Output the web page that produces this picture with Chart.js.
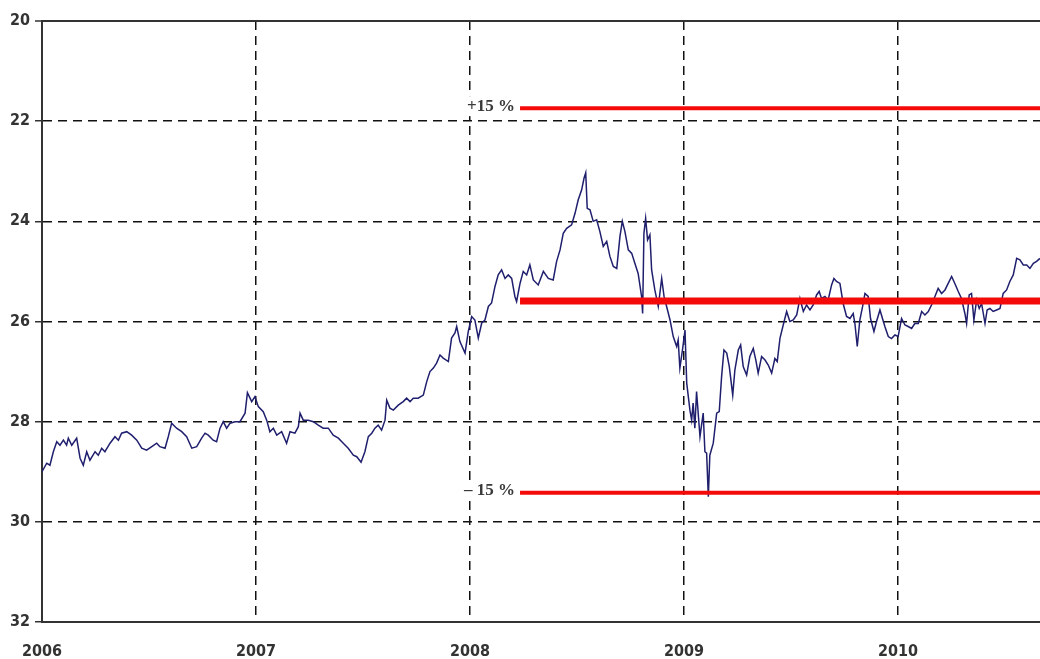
<!DOCTYPE html>
<html>
<head>
<meta charset="utf-8">
<script src="https://cdn.jsdelivr.net/npm/chart.js@4.4.1/dist/chart.umd.min.js"></script>
<style>
  html, body { margin: 0; padding: 0; background: #fff; }
  #wrap { width: 1040px; height: 659px; }
</style>
</head>
<body>
<div id="wrap"><canvas id="chart"></canvas></div>
<script>
// decimal years
const dates = [
  2006.000, 2006.022, 2006.037, 2006.053, 2006.069, 2006.084, 2006.100, 2006.115, 2006.123, 2006.139,
  2006.162, 2006.178, 2006.193, 2006.209, 2006.224, 2006.248, 2006.263, 2006.279, 2006.294, 2006.318,
  2006.341, 2006.357, 2006.372, 2006.396, 2006.419, 2006.443, 2006.466, 2006.489, 2006.513, 2006.536,
  2006.551, 2006.575, 2006.590, 2006.606, 2006.629, 2006.653, 2006.676, 2006.700, 2006.723, 2006.746,
  2006.762, 2006.777, 2006.800, 2006.816, 2006.832, 2006.847, 2006.863, 2006.879, 2006.902, 2006.925,
  2006.949, 2006.960, 2006.980,
  2006.995, 2007.011, 2007.034, 2007.050, 2007.065, 2007.081, 2007.097, 2007.120, 2007.143, 2007.159,
  2007.182, 2007.198, 2007.206, 2007.221, 2007.244, 2007.268, 2007.291, 2007.314, 2007.338, 2007.361,
  2007.385, 2007.408, 2007.431, 2007.455, 2007.471, 2007.491, 2007.509, 2007.525, 2007.541, 2007.556,
  2007.571, 2007.587, 2007.603, 2007.611, 2007.626, 2007.642, 2007.665, 2007.688, 2007.704, 2007.720,
  2007.735, 2007.758, 2007.782, 2007.798, 2007.813, 2007.829, 2007.844, 2007.860, 2007.875, 2007.899,
  2007.914, 2007.930, 2007.938, 2007.953, 2007.977, 2007.992, 2008.008, 2008.023,
  2008.039, 2008.055, 2008.070, 2008.086, 2008.101, 2008.117, 2008.132, 2008.148, 2008.164, 2008.179,
  2008.195, 2008.210, 2008.218, 2008.234, 2008.249, 2008.265, 2008.280, 2008.296, 2008.319, 2008.343,
  2008.366, 2008.389, 2008.405, 2008.421, 2008.436, 2008.452, 2008.475, 2008.491, 2008.506, 2008.522,
  2008.533, 2008.541, 2008.548, 2008.561, 2008.576, 2008.592, 2008.607, 2008.623, 2008.639, 2008.654,
  2008.670, 2008.686, 2008.701, 2008.712, 2008.724, 2008.740, 2008.756, 2008.771, 2008.786, 2008.802,
  2008.807, 2008.813, 2008.821, 2008.830, 2008.841, 2008.849, 2008.864, 2008.880, 2008.896, 2008.907,
  2008.919,
  2008.935, 2008.950, 2008.966, 2008.973, 2008.981, 2008.994, 2009.005, 2009.013, 2009.028, 2009.036,
  2009.043, 2009.051, 2009.059, 2009.075, 2009.090, 2009.098, 2009.106, 2009.114, 2009.121, 2009.137,
  2009.153, 2009.165, 2009.176, 2009.187, 2009.200, 2009.212, 2009.228, 2009.238, 2009.254, 2009.265,
  2009.277, 2009.293, 2009.308, 2009.324, 2009.336, 2009.347, 2009.363, 2009.379, 2009.394, 2009.410,
  2009.425, 2009.436, 2009.449, 2009.464, 2009.480, 2009.495, 2009.511, 2009.527, 2009.542, 2009.558,
  2009.573, 2009.589, 2009.604, 2009.620, 2009.632, 2009.643, 2009.659, 2009.674, 2009.690, 2009.701,
  2009.713, 2009.729, 2009.744, 2009.760, 2009.776, 2009.791, 2009.799, 2009.810, 2009.822, 2009.835,
  2009.846, 2009.861, 2009.872, 2009.888, 2009.900,
  2009.916, 2009.939, 2009.955, 2009.970, 2009.986, 2010.001, 2010.017, 2010.033, 2010.048, 2010.064,
  2010.079, 2010.095, 2010.111, 2010.126, 2010.142, 2010.157, 2010.173, 2010.188, 2010.204, 2010.220,
  2010.235, 2010.251, 2010.266, 2010.282, 2010.297, 2010.313, 2010.321, 2010.333, 2010.344, 2010.355,
  2010.368, 2010.380, 2010.391, 2010.407, 2010.417, 2010.430, 2010.445, 2010.461, 2010.477, 2010.492,
  2010.508, 2010.523, 2010.539, 2010.555, 2010.570, 2010.586, 2010.602, 2010.617, 2010.633, 2010.648,
  2010.664
];

const rates = [
  29.00, 28.83, 28.87, 28.60, 28.40, 28.47, 28.37, 28.47, 28.33, 28.47,
  28.33, 28.73, 28.87, 28.60, 28.77, 28.60, 28.67, 28.53, 28.60, 28.43,
  28.30, 28.37, 28.23, 28.20, 28.27, 28.37, 28.53, 28.57, 28.50, 28.43,
  28.50, 28.53, 28.30, 28.03, 28.13, 28.20, 28.30, 28.53, 28.50, 28.33,
  28.23, 28.27, 28.37, 28.40, 28.13, 28.00, 28.13, 28.03, 28.00, 28.00,
  27.83, 27.42, 27.60,
  27.50, 27.70, 27.80, 27.97, 28.20, 28.13, 28.27, 28.20, 28.43, 28.20,
  28.23, 28.10, 27.83, 27.97, 27.97, 28.00, 28.07, 28.13, 28.13, 28.27,
  28.33, 28.43, 28.53, 28.67, 28.70, 28.81, 28.60, 28.30, 28.23, 28.13,
  28.07, 28.17, 27.97, 27.57, 27.73, 27.77, 27.67, 27.60, 27.53, 27.60,
  27.53, 27.53, 27.47, 27.20, 27.00, 26.93, 26.83, 26.67, 26.73, 26.80,
  26.33, 26.23, 26.10, 26.40, 26.63, 26.20, 25.90, 25.97,
  26.33, 26.03, 25.97, 25.70, 25.63, 25.30, 25.07, 24.97, 25.14, 25.07,
  25.14, 25.50, 25.60, 25.24, 25.00, 25.07, 24.87, 25.17, 25.27, 25.00,
  25.14, 25.17, 24.80, 24.57, 24.24, 24.14, 24.07, 23.84, 23.57, 23.37,
  23.14, 23.03, 23.74, 23.77, 24.00, 23.97, 24.20, 24.50, 24.40, 24.70,
  24.90, 24.94, 24.30, 24.00, 24.20, 24.57, 24.64, 24.84, 25.04, 25.50,
  25.84, 24.24, 23.94, 24.37, 24.27, 24.97, 25.37, 25.70, 25.14, 25.50,
  25.70,
  25.97, 26.30, 26.50, 26.37, 26.93, 26.54, 26.17, 27.23, 27.77, 27.97,
  27.63, 28.13, 27.40, 28.30, 27.83, 28.60, 28.63, 29.50, 28.67, 28.43,
  27.83, 27.80, 27.10, 26.57, 26.63, 26.90, 27.47, 26.97, 26.57, 26.47,
  26.90, 27.07, 26.70, 26.54, 26.77, 27.03, 26.70, 26.77, 26.87, 27.03,
  26.74, 26.80, 26.33, 26.07, 25.80, 26.00, 25.97, 25.87, 25.54, 25.80,
  25.67, 25.77, 25.67, 25.47, 25.40, 25.54, 25.50, 25.57, 25.27, 25.14,
  25.20, 25.24, 25.64, 25.90, 25.94, 25.84, 26.04, 26.50, 25.97, 25.70,
  25.44, 25.50, 25.94, 26.20, 26.00,
  25.77, 26.10, 26.30, 26.34, 26.27, 26.30, 25.94, 26.07, 26.10, 26.14,
  26.04, 26.04, 25.80, 25.87, 25.80, 25.67, 25.50, 25.34, 25.44, 25.37,
  25.24, 25.10, 25.24, 25.40, 25.54, 25.84, 26.04, 25.47, 25.44, 25.97,
  25.57, 25.74, 25.64, 26.04, 25.77, 25.74, 25.80, 25.77, 25.74, 25.44,
  25.37, 25.20, 25.07, 24.74, 24.77, 24.87, 24.87, 24.94, 24.84, 24.80,
  24.74
];

// reference band: +15 %, centre, -15 %
const bandLabels = ["+15 %", "", "\u2013 15 %"];
const bandLevels = [21.74, 25.59, 29.42];
const bandStart = 2008.234;
const bandEnd = 2010.664;

const yearTicks = [2006, 2007, 2008, 2009, 2010];

const tickFont = { family: "'DejaVu Sans Condensed', 'Liberation Sans Narrow', sans-serif", size: 16, weight: "bold" };

const bandDatasets = bandLevels.map((lvl, i) => ({
  label: "band" + i,
  data: [{ x: bandStart, y: lvl }, { x: bandEnd, y: lvl }],
  borderColor: "#f50a0a",
  borderWidth: i === 1 ? 7 : 4,
  pointRadius: 0,
  fill: false,
  order: 0
}));

// band captions, on a white patch that hides the grid behind them
const bandText = {
  id: "bandText",
  afterDatasetsDraw(chart) {
    const { ctx, scales } = chart;
    ctx.save();
    ctx.font = "bold 17px 'Liberation Serif', serif";
    ctx.textAlign = "right";
    ctx.textBaseline = "middle";
    bandLevels.forEach((lvl, i) => {
      if (!bandLabels[i]) return;
      const x = scales.x.getPixelForValue(bandStart) - 5;
      const y = scales.y.getPixelForValue(lvl) - 2;
      const w = ctx.measureText(bandLabels[i]).width;
      ctx.fillStyle = "#fff";
      ctx.fillRect(x - w - 2, y - 10, w + 4, 20);
      ctx.fillStyle = "#3a3a3a";
      ctx.fillText(bandLabels[i], x, y);
    });
    ctx.restore();
  }
};

new Chart(document.getElementById("chart"), {
  type: "line",
  data: {
    datasets: [
      {
        label: "rate",
        data: dates.map((d, i) => ({ x: d, y: rates[i] })),
        borderColor: "#1f1f6e",
        borderWidth: 1.5,
        pointRadius: 0,
        tension: 0,
        fill: false,
        order: 1
      },
      ...bandDatasets
    ]
  },
  options: {
    responsive: true,
    maintainAspectRatio: false,
    animation: false,
    layout: { padding: { top: 21, left: 0, right: 0, bottom: 0 } },
    plugins: { legend: { display: false }, tooltip: { enabled: false } },
    scales: {
      x: {
        type: "linear",
        min: 2006,
        max: bandEnd,
        afterBuildTicks(scale) {
          scale.ticks = yearTicks.map(v => ({ value: v }));
        },
        afterFit(scale) { scale.height = 37; },
        ticks: {
          font: tickFont,
          color: "#333",
          padding: 20,
          maxRotation: 0,
          callback: v => String(v)
        },
        grid: { color: "#111", lineWidth: 1.5, drawTicks: false },
        border: { display: true, color: "#333", width: 2, dash: [9, 6] }
      },
      y: {
        type: "linear",
        reverse: true,
        min: 20,
        max: 32,
        afterFit(scale) { scale.width = 42; },
        ticks: {
          stepSize: 2,
          font: tickFont,
          color: "#333",
          padding: 5,
          callback: v => String(v)
        },
        grid: {
          color: ctx => (ctx.tick && ctx.tick.value === 20 ? "#333" : "#111"),
          lineWidth: ctx => (ctx.tick && ctx.tick.value === 20 ? 2 : 1.5),
          tickLength: 7,
          tickColor: "#333",
          tickWidth: 1.5
        },
        border: {
          display: true,
          color: "#333",
          width: 2,
          dash: ctx => (ctx.tick && ctx.tick.value === 20 ? [] : [9, 6])
        }
      }
    }
  },
  plugins: [bandText]
});
</script>
</body>
</html>
